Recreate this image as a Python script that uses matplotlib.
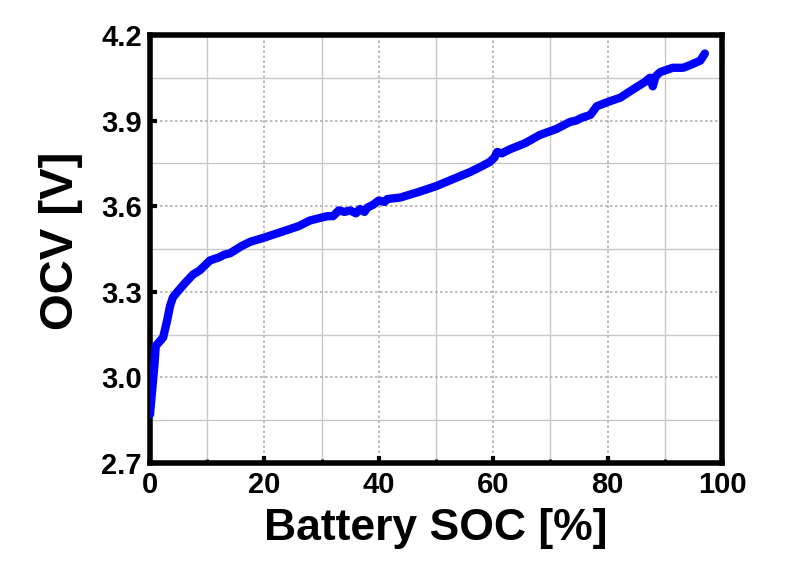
import matplotlib
matplotlib.use("Agg")
import matplotlib.pyplot as plt
from matplotlib.ticker import MultipleLocator, FormatStrFormatter

# OCV vs SOC curve
soc = [0.0, 0.4, 0.8, 1.0, 2.3, 3.0, 3.5, 4.0, 4.8, 6.1, 7.5, 8.7, 10.5, 12.0,
       13.0, 14.0, 16.0, 17.5, 20.0, 23.0, 26.0, 28.0, 30.0, 31.0, 32.0, 33.0,
       34.0, 35.0, 36.0, 36.7, 37.5, 38.0, 39.0, 40.0, 41.0, 41.5, 43.7, 47.0,
       50.0, 53.0, 56.0, 58.0, 59.4, 60.2, 60.7, 61.5, 63.0, 65.5, 68.2, 71.0,
       73.4, 74.5, 75.5, 77.0, 78.1, 80.0, 82.2, 84.5, 86.5, 87.4, 87.9, 88.4,
       89.2, 91.4, 93.2, 94.5, 96.2, 97.0]
ocv = [2.87, 2.96, 3.05, 3.11, 3.14, 3.20, 3.25, 3.28, 3.30, 3.33, 3.36, 3.375,
       3.41, 3.42, 3.43, 3.435, 3.46, 3.475, 3.49, 3.51, 3.53, 3.55, 3.56,
       3.565, 3.565, 3.585, 3.58, 3.585, 3.575, 3.59, 3.58, 3.595, 3.605, 3.62,
       3.615, 3.625, 3.63, 3.65, 3.67, 3.695, 3.72, 3.74, 3.755, 3.77, 3.79,
       3.785, 3.80, 3.82, 3.85, 3.87, 3.895, 3.90, 3.91, 3.92, 3.95, 3.965,
       3.98, 4.01, 4.035, 4.05, 4.02, 4.055, 4.07, 4.085, 4.085, 4.095, 4.11,
       4.135]

plt.rcParams['font.family'] = ['Liberation Sans', 'DejaVu Sans']
plt.rcParams['font.weight'] = 'bold'

fig = plt.figure(figsize=(8, 5.73), dpi=100)
ax = fig.add_axes([0.1875, 0.192, 0.715, 0.747])

ax.plot(soc, ocv, color='#0000ff', lw=6, solid_capstyle='round',
        solid_joinstyle='round', zorder=3)

ax.set_xlim(0, 100)
ax.set_ylim(2.7, 4.2)
ax.xaxis.set_major_locator(MultipleLocator(20))
ax.xaxis.set_minor_locator(MultipleLocator(10))
ax.yaxis.set_major_locator(MultipleLocator(0.3))
ax.yaxis.set_minor_locator(MultipleLocator(0.15))
ax.yaxis.set_major_formatter(FormatStrFormatter('%.1f'))

ax.grid(which='major', color='#b0b0b0', ls=(0, (1.5, 1.5)), lw=1.2)
ax.grid(which='minor', color='#c8c8c8', ls='-', lw=1.0)
ax.set_axisbelow(True)

ax.tick_params(which='major', direction='in', length=5, width=3, labelsize=21,
               pad=6, colors='black')
ax.tick_params(axis='x', which='minor', direction='in', length=3, width=2,
               colors='black')
ax.tick_params(axis='y', which='minor', length=0)
for lab in ax.get_xticklabels() + ax.get_yticklabels():
    lab.set_fontweight('bold')

for s in ax.spines.values():
    s.set_linewidth(4)

ax.set_xlabel('Battery SOC [%]', fontsize=32, fontweight='bold', labelpad=6)
ax.set_ylabel('OCV [V]', fontsize=34, fontweight='bold')
ax.yaxis.set_label_coords(-0.118, 0.52)

fig.savefig('out.png', dpi=100)
